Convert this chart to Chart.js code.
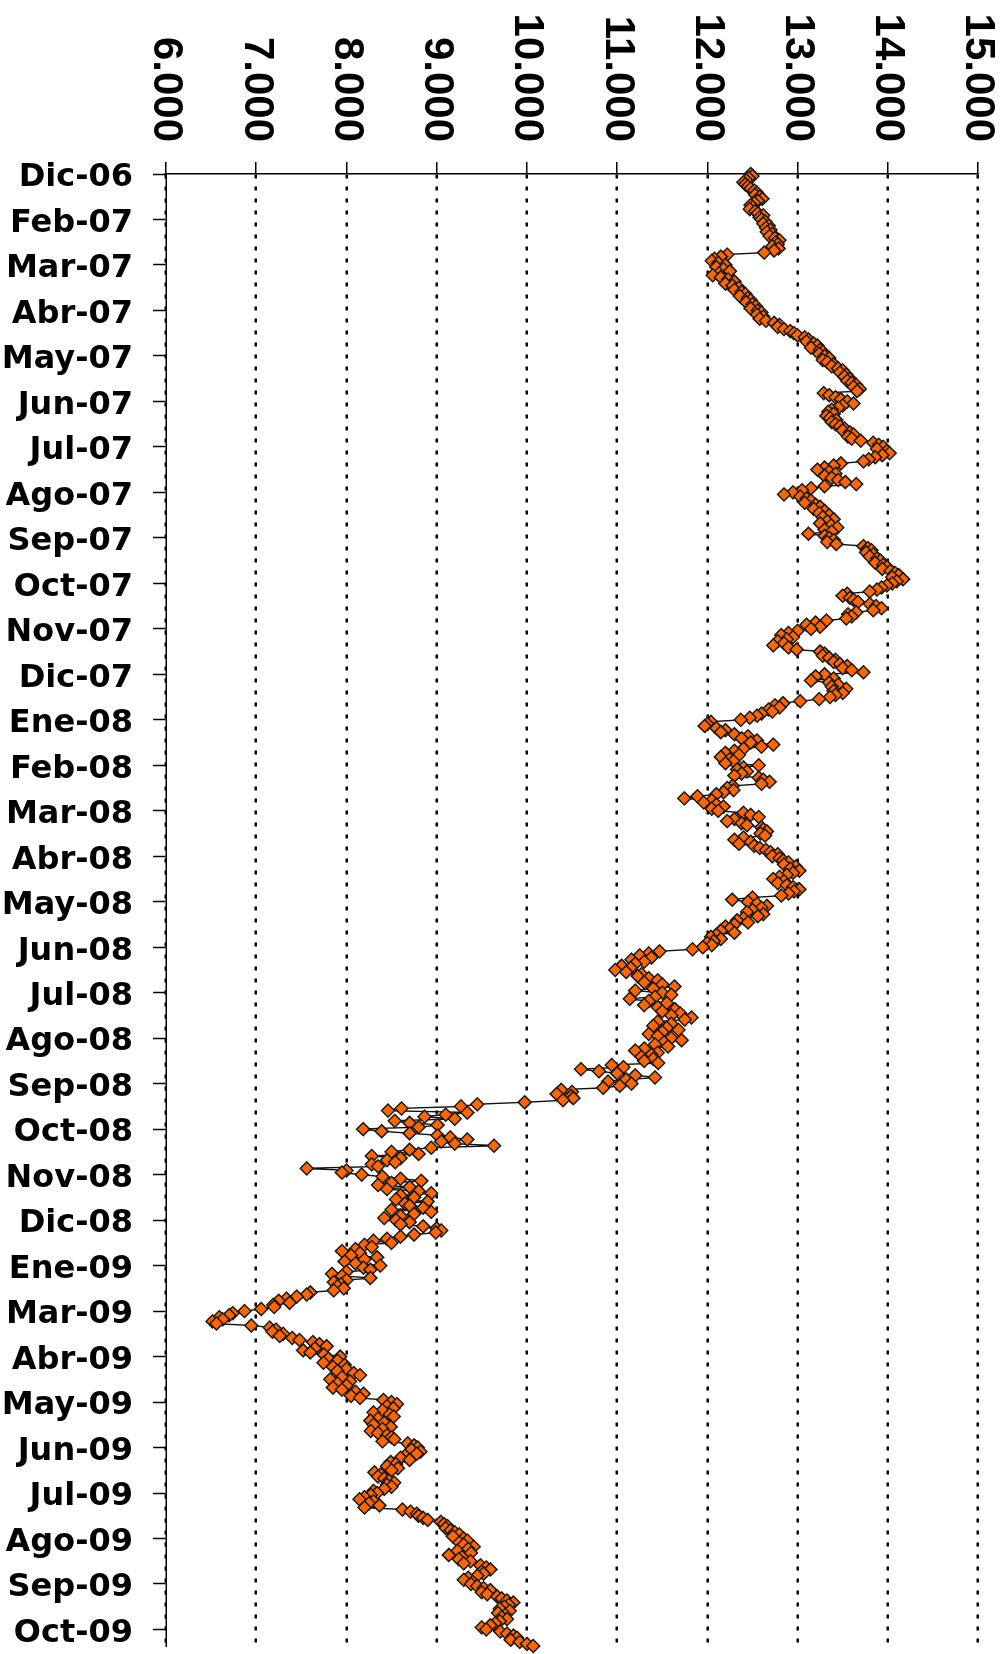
<!DOCTYPE html>
<html lang="es">
<head>
<meta charset="utf-8">
<title>Serie diaria Dic-06 / Oct-09</title>
<script src="https://cdn.jsdelivr.net/npm/chart.js@4.4.1/dist/chart.umd.min.js"></script>
<style>
    html, body { margin: 0; padding: 0; background: #fff; overflow: hidden; }
    /* the chart is drawn lying down and turned a quarter clockwise */
    #wrap {
        position: absolute;
        left: 0;
        top: 0;
        width: 1654px;
        height: 1007px;
        transform-origin: 0 0;
        transform: translateX(1007px) rotate(90deg);
    }
    canvas { display: block; }
</style>
</head>
<body>
<div id="wrap"><canvas id="chart" width="1654" height="1007"></canvas></div>
<script>
// Tick labels of the date axis, one every 22 sessions
const tickLabels = [
    "Dic-06", "Feb-07", "Mar-07", "Abr-07", "May-07", "Jun-07", "Jul-07", "Ago-07",
    "Sep-07", "Oct-07", "Nov-07", "Dic-07", "Ene-08", "Feb-08", "Mar-08", "Abr-08",
    "May-08", "Jun-08", "Jul-08", "Ago-08", "Sep-08", "Oct-08", "Nov-08", "Dic-08",
    "Ene-09", "Mar-09", "Abr-09", "May-09", "Jun-09", "Jul-09", "Ago-09", "Sep-09", "Oct-09"
];
const pointsPerTick = 22;

// Daily closes, Dic-06 .. Dic-07
const closes2007 = [
    12480, 12500, 12460, 12430, 12400, 12420, 12450, 12480, 12520, 12550, 12530, 12580, 12610, 12560, 12520, 12480, 12500, 12470, 12530, 12560, 12620, 12580,
    12600, 12640, 12620, 12680, 12650, 12700, 12660, 12720, 12690, 12750, 12800, 12760, 12780, 12720, 12790, 12740, 12630, 12220, 12150, 12080, 12050, 12120,
    12200, 12100, 12180, 12250, 12130, 12060, 12150, 12230, 12300, 12200, 12280, 12350, 12300, 12380, 12420, 12360, 12450, 12480, 12430, 12500, 12540, 12480,
    12560, 12600, 12550, 12620, 12580, 12650, 12740, 12800, 12780, 12850, 12920, 12960, 13000, 13080, 13120, 13100, 13180, 13220, 13150, 13250, 13280, 13240,
    13300, 13350, 13280, 13330, 13400, 13380, 13450, 13500, 13470, 13540, 13520, 13580, 13550, 13600, 13650, 13620, 13690, 13660, 13290, 13350, 13420, 13480,
    13550, 13620, 13500, 13450, 13380, 13340, 13400, 13320, 13360, 13430, 13380, 13420, 13470, 13520, 13500, 13580, 13620, 13560, 13600, 13700, 13840, 13900,
    13950, 13880, 13990, 14020, 13940, 13860, 13790, 13730, 13480, 13400, 13300, 13220, 13350, 13420, 13300, 13380, 13450, 13530, 13650, 13300, 13150, 13050,
    12950, 12850, 13030, 13100, 13150, 13080, 13200, 13250, 13180, 13300, 13240, 13350, 13280, 13400, 13330, 13250, 13370, 13440, 13300, 13380, 13120, 13300,
    13350, 13400, 13330, 13430, 13730, 13780, 13820, 13760, 13840, 13800, 13880, 13920, 13860, 13950, 13990, 13940, 14030, 14080, 14120, 14050, 14170, 14100,
    14050, 13990, 13930, 13880, 13800, 13550, 13500, 13580, 13620, 13670, 13800, 13870, 13930, 13840, 13650, 13560, 13600, 13540, 13320, 13200, 13100, 13250,
    13150, 13000, 12900, 12820, 12950, 12880, 12780, 12850, 12730, 12900, 12990, 13250, 13300, 13280, 13350, 13420, 13400, 13470, 13550, 13500, 13600, 13730,
    13300, 13200, 13400, 13150, 13350, 13450, 13380, 13540, 13400, 13500, 13420, 13360, 13240, 13030, 12840, 12750, 12800, 12680, 12720, 12600, 12550, 12470
];

// Ene-08 .. Dic-08
const closes2008 = [
    12370, 12040, 12000, 11970, 12100, 12200, 12150, 12300, 12450, 12380, 12550, 12480, 12730, 12600, 12400, 12300, 12200, 12350, 12150, 12250, 12290, 12200,
    12570, 12400, 12330, 12440, 12380, 12300, 12570, 12620, 12690, 12600, 12280, 12220, 12290, 12180, 12100, 11890, 11745, 12050, 11960, 12100, 12180, 12050,
    12120, 12400, 12480, 12570, 12300, 12220, 12380, 12440, 12600, 12620, 12660, 12590, 12640, 12400, 12300, 12480, 12350, 12520, 12580, 12650, 12700, 12780,
    12720, 12800, 12840, 12900, 12850, 12980, 12920, 13020, 12950, 12880, 12800, 12730, 12850, 12780, 12880, 12950, 13020, 12960, 12900, 12820, 12500, 12275,
    12450, 12550, 12660, 12600, 12500, 12440, 12620, 12560, 12400, 12330, 12450, 12300, 12200, 12250, 12150, 12300, 12100, 12040, 12150, 12070, 12000, 12050,
    11950, 11835, 11470, 11350, 11250, 11380, 11160, 11300, 11200, 11050, 11150, 10980, 11100, 11270, 11230, 11350, 11450, 11300, 11500, 11635, 11400, 11200,
    11500, 11600, 11420, 11140, 11350, 11550, 11300, 11450, 11640, 11500, 11700, 11600, 11825, 11750, 11450, 11600, 11400, 11550, 11680, 11500, 11350, 11450,
    11600, 11715, 11520, 11420, 11565, 11300, 11200, 11450, 11380, 11270, 11400, 11300, 11455, 10940, 11070, 10600, 10800, 11000, 11200, 11420, 11100, 10900,
    11160, 11030, 10845, 10380, 10500, 10330, 10490, 10515, 10400, 9975, 9450, 9270, 8610, 8460, 9340, 9100, 8865, 9200, 8535, 8700, 9010, 8800,
    8185, 8390, 8700, 9010, 9150, 9340, 9050, 9200, 9635, 8940, 8700, 8500, 8800, 8280, 8600, 8450, 8540, 8280, 8350, 7560, 8000, 7950,
    8170, 8400, 8600, 8830, 8500, 8350, 8700, 8450, 8800, 8940, 8600, 8750, 8550, 8900, 8650, 8700, 8850, 8500, 8940, 8750, 8600, 8420,
    8550, 8700, 8600, 8850, 9000, 9050, 8990, 8750, 8600, 8450, 8300, 8500, 8200, 8280, 8100, 7950, 8150, 8050, 8340, 8200, 7980, 8100
];

// Ene-09 .. Oct-09
const closes2009 = [
    8375, 8190, 8265, 8000, 7840, 7950, 8265, 8000, 7860, 7940, 7900, 7970, 7860, 7600, 7560, 7450, 7335, 7250, 7370, 7190, 7200, 7055,
    6870, 6740, 6700, 6590, 6630, 6515, 6560, 6945, 7150, 7220, 7180, 7300, 7260, 7400, 7480, 7630, 7700, 7780, 7650, 7520, 7600, 7750,
    7930, 7800, 7900, 7745, 7980, 7850, 8000, 7900, 8080, 8150, 7950, 7820, 8040, 7900, 8000, 7850, 7950, 8100, 8190, 8050, 8150, 8410,
    8500, 8560, 8450, 8520, 8400, 8300, 8480, 8525, 8350, 8265, 8420, 8300, 8490, 8400, 8270, 8350, 8450, 8500, 8530, 8400, 8680, 8750,
    8790, 8720, 8820, 8780, 8650, 8600, 8700, 8490, 8550, 8450, 8570, 8500, 8310, 8380, 8350, 8420, 8470, 8530, 8450, 8500, 8420, 8300,
    8340, 8270, 8200, 8145, 8300, 8250, 8365, 8200, 8620, 8710, 8780, 8800, 8850, 8900, 9045, 9080, 9120, 9100, 9155, 9200, 9250, 9180,
    9300, 9340, 9250, 9300, 9410, 9350, 9230, 9380, 9135, 9280, 9245, 9375, 9300, 9485, 9550, 9595, 9500, 9520, 9450, 9350, 9300, 9400,
    9380, 9450, 9520, 9595, 9500, 9560, 9670, 9720, 9780, 9850, 9800, 9750, 9700, 9810, 9680, 9760, 9720, 9780, 9700, 9650, 9595, 9500,
    9550, 9705, 9780, 9850, 9890, 9820, 9920, 10000, 10070
];

const valueMin = 6000;
const valueMax = 15000;
const valueStep = 1000;

document.addEventListener("DOMContentLoaded", () => {
    const ctx = document.getElementById("chart").getContext("2d");

    const closes = closes2007.concat(closes2008, closes2009);
    const points = closes.map((v, i) => ({ x: i, y: v }));

    new Chart(ctx, {
        type: "line",
        data: {
            datasets: [
                {
                    data: points,
                    borderColor: "#111",
                    borderWidth: 1.4,
                    tension: 0.2,
                    pointStyle: "rectRot",
                    pointRadius: 6.5,
                    pointBackgroundColor: "#ff6600",
                    pointBorderColor: "#1a1a1a",
                    pointBorderWidth: 1.5,
                    clip: false,
                },
            ],
        },
        options: {
            responsive: false,
            animation: false,
            layout: { padding: { top: 29, right: 6, left: 0, bottom: 0 } },
            plugins: {
                legend: { display: false },
                tooltip: { enabled: false },
            },
            scales: {
                x: {
                    type: "linear",
                    min: 0,
                    max: closes.length - 1,
                    afterFit: (scale) => {
                        // keep the rotated labels from shrinking the plot area
                        scale.height = 166;
                        scale.paddingLeft = 0;
                        scale.paddingRight = 0;
                    },
                    grid: {
                        drawOnChartArea: false,
                        tickLength: 13,
                        tickWidth: 1.5,
                        tickColor: "#000",
                    },
                    border: { display: true, color: "#000", width: 1.5 },
                    ticks: {
                        stepSize: pointsPerTick,
                        includeBounds: false,
                        autoSkip: false,
                        maxTicksLimit: 100,
                        minRotation: 90,
                        maxRotation: 90,
                        padding: 20,
                        labelOffset: 4,
                        color: "#000",
                        font: { family: "DejaVu Sans", size: 32, weight: "bold" },
                        callback: (v) => tickLabels[Math.round(v / pointsPerTick)] || "",
                    },
                },
                y: {
                    min: valueMin,
                    max: valueMax,
                    afterFit: (scale) => {
                        scale.width = 174;
                        scale.paddingTop = 0;
                        scale.paddingBottom = 0;
                    },
                    grid: {
                        color: "#000",
                        lineWidth: 2.5,
                        tickLength: 12,
                        tickWidth: 1.5,
                        tickColor: "#000",
                        tickBorderDash: [],
                    },
                    border: { display: true, color: "#000", width: 1.5, dash: [4, 8] },
                    ticks: {
                        stepSize: valueStep,
                        padding: 20,
                        color: "#000",
                        font: { family: "Liberation Sans", size: 42, weight: "bold" },
                        callback: (v) => v.toLocaleString("de-DE"),
                    },
                },
            },
        },
    });
});
</script>
</body>
</html>
